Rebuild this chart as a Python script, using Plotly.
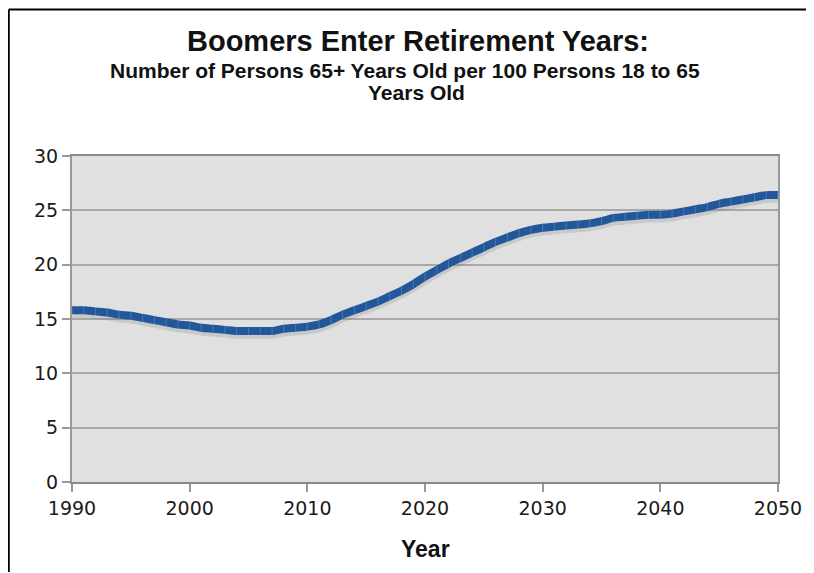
import plotly.graph_objects as go

years = list(range(1990, 2051))
ratio = [15.8, 15.8, 15.7, 15.6, 15.4, 15.3, 15.1, 14.9, 14.7, 14.5,
         14.4, 14.2, 14.1, 14.0, 13.9, 13.9, 13.9, 13.9, 14.1, 14.2,
         14.3, 14.5, 14.9, 15.4, 15.8, 16.2, 16.6, 17.1, 17.6, 18.2,
         18.9, 19.5, 20.1, 20.6, 21.1, 21.6, 22.1, 22.5, 22.9, 23.2,
         23.4, 23.5, 23.6, 23.7, 23.8, 24.0, 24.3, 24.4, 24.5, 24.6,
         24.6, 24.7, 24.9, 25.1, 25.3, 25.6, 25.8, 26.0, 26.2, 26.4,
         26.4]

title_text = "Boomers Enter Retirement Years:"
subtitle_1 = "Number of Persons 65+ Years Old per 100 Persons 18 to 65"
subtitle_2 = "Years Old"
x_title = "Year"
x_ticks = [1990, 2000, 2010, 2020, 2030, 2040, 2050]
y_ticks = [0, 5, 10, 15, 20, 25, 30]

# page is rendered with an 8px body margin; work in page pixels and convert
OFF = 8
PAGE_W, PAGE_H = 814, 573
W, H = PAGE_W - OFF, PAGE_H - OFF
PL, PR, PT, PB = 72, 781, 156, 482          # plot area in page pixels
L, T = PL - OFF, PT - OFF
R, B = W - (PR - OFF), H - (PB - OFF)
pw, ph = PR - PL, PB - PT

def px_x(px):
    return (px - PL) / pw

def px_y(py):
    return (PB - py) / ph

shadow = [v - 0.3 for v in ratio]

fig = go.Figure()
fig.add_trace(go.Scatter(x=years, y=shadow, mode="lines",
                         line=dict(color="rgba(110,110,110,0.2)", width=9, shape="spline"),
                         hoverinfo="skip", showlegend=False))
fig.add_trace(go.Scatter(x=years, y=ratio, mode="lines+markers",
                         line=dict(color="#22589a", width=8, shape="spline"),
                         marker=dict(symbol="line-ns", size=6,
                                     line=dict(color="rgba(120,155,205,0.45)", width=1)),
                         showlegend=False))

title_font = "Liberation Sans, Arial, sans-serif"
tick_font = "DejaVu Sans, Verdana, sans-serif"

fig.update_layout(
    width=W, height=H,
    margin=dict(l=L, r=R, t=T, b=B, pad=0),
    paper_bgcolor="white",
    plot_bgcolor="#e0e0e0",
    showlegend=False,
    xaxis=dict(range=[1990, 2050], tickvals=x_ticks, ticks="outside", ticklen=8,
               tickcolor="#999999", tickwidth=1.5,
               showline=True, linecolor="#8a8a8a", linewidth=2, mirror=True,
               showgrid=False, zeroline=False,
               tickfont=dict(family=tick_font, size=19, color="#1a1a1a")),
    yaxis=dict(range=[0, 30], tickvals=y_ticks, ticks="outside", ticklen=8,
               tickcolor="#999999", tickwidth=1.5,
               showline=True, linecolor="#9a9a9a", linewidth=2, mirror=True,
               showgrid=True, gridcolor="#a8a8a8", gridwidth=1.5, zeroline=False,
               tickfont=dict(family=tick_font, size=19, color="#1a1a1a")),
    annotations=[
        dict(text="<b>%s</b>" % title_text, xref="paper", yref="paper",
             x=px_x(419), y=px_y(41), xanchor="center", yanchor="middle",
             showarrow=False, font=dict(family=title_font, size=29, color="#111111")),
        dict(text="<b>%s</b>" % subtitle_1, xref="paper", yref="paper",
             x=px_x(406.5), y=px_y(71), xanchor="center", yanchor="middle",
             showarrow=False, font=dict(family=title_font, size=21, color="#111111")),
        dict(text="<b>%s</b>" % subtitle_2, xref="paper", yref="paper",
             x=px_x(418), y=px_y(92), xanchor="center", yanchor="middle",
             showarrow=False, font=dict(family=title_font, size=21, color="#111111")),
        dict(text="<b>%s</b>" % x_title, xref="paper", yref="paper",
             x=px_x(426.5), y=px_y(549), xanchor="center", yanchor="middle",
             showarrow=False, font=dict(family=title_font, size=23, color="#111111")),
    ],
    shapes=[
        dict(type="line", xref="paper", yref="paper",
             x0=px_x(8.5), y0=px_y(9.5), x1=px_x(PAGE_W - 1), y1=px_y(9.5),
             line=dict(color="#000000", width=2)),
        dict(type="line", xref="paper", yref="paper",
             x0=px_x(8.5), y0=px_y(9.5), x1=px_x(8.5), y1=px_y(PAGE_H - 1),
             line=dict(color="#000000", width=2)),
    ],
)

fig.write_html("out.html")
